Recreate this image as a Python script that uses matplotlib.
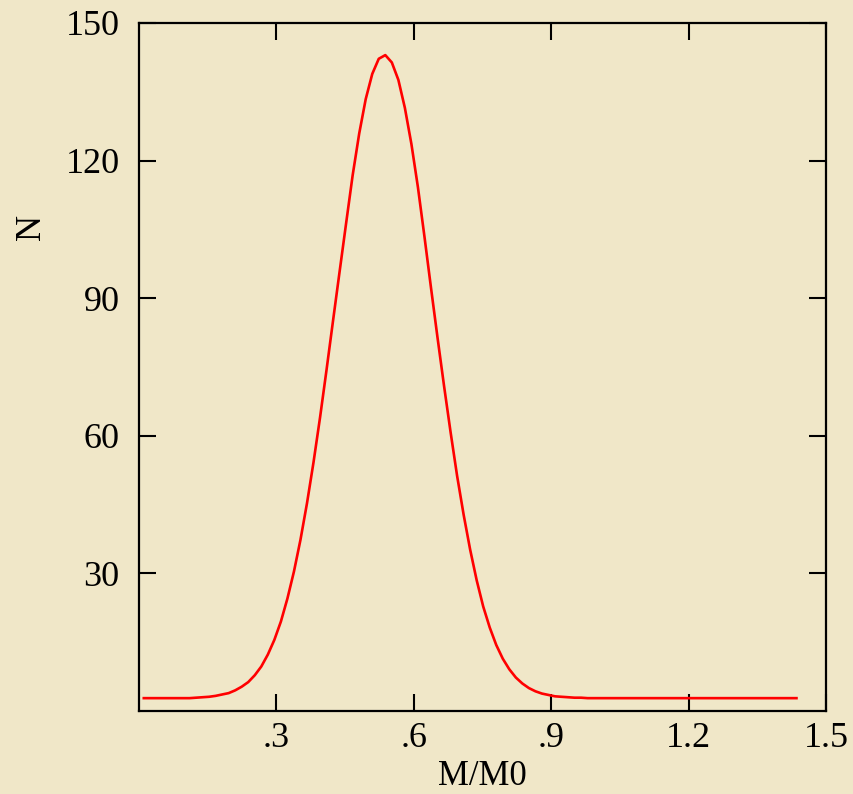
import numpy as np
import matplotlib
matplotlib.use("Agg")
import matplotlib.pyplot as plt

# Mass distribution: counts N versus normalised mass M/M0
m_ratio = [
    0.0105, 0.0248, 0.0390, 0.0533, 0.0675, 0.0818, 0.0960, 0.1103, 0.1245, 0.1388,
    0.1530, 0.1673, 0.1815, 0.1958, 0.2100, 0.2243, 0.2385, 0.2528, 0.2670, 0.2813,
    0.2955, 0.3098, 0.3240, 0.3383, 0.3525, 0.3668, 0.3810, 0.3953, 0.4095, 0.4238,
    0.4380, 0.4523, 0.4665, 0.4808, 0.4950, 0.5093, 0.5235, 0.5378, 0.5520, 0.5663,
    0.5805, 0.5948, 0.6090, 0.6233, 0.6375, 0.6518, 0.6660, 0.6803, 0.6945, 0.7088,
    0.7230, 0.7373, 0.7515, 0.7658, 0.7800, 0.7943, 0.8085, 0.8228, 0.8370, 0.8513,
    0.8655, 0.8798, 0.8940, 0.9083, 0.9225, 0.9368, 0.9510, 0.9653, 0.9795, 0.9938,
    1.0080, 1.0223, 1.0365, 1.0508, 1.0650, 1.0793, 1.0935, 1.1078, 1.1220, 1.1363,
    1.1505, 1.1648, 1.1790, 1.1933, 1.2075, 1.2218, 1.2360, 1.2503, 1.2645, 1.2788,
    1.2930, 1.3073, 1.3215, 1.3358, 1.3500, 1.3643, 1.3785, 1.3928, 1.4070, 1.4213,
    1.4355,
]
counts = [
    2.8, 2.8, 2.8, 2.8, 2.8, 2.8, 2.8, 2.8, 2.9, 3.0,
    3.1, 3.3, 3.6, 3.9, 4.5, 5.3, 6.3, 7.8, 9.7, 12.3,
    15.5, 19.5, 24.5, 30.4, 37.3, 45.3, 54.2, 64.0, 74.4, 85.2,
    95.8, 106.4, 116.8, 125.9, 133.4, 138.9, 142.2, 143.0, 141.4, 137.6,
    131.5, 123.6, 114.2, 103.4, 92.3, 81.4, 70.9, 60.8, 51.3, 42.8,
    35.2, 28.5, 22.8, 18.2, 14.4, 11.4, 9.1, 7.3, 6.0, 5.0,
    4.3, 3.8, 3.5, 3.2, 3.1, 3.0, 2.9, 2.9, 2.8, 2.8,
    2.8, 2.8, 2.8, 2.8, 2.8, 2.8, 2.8, 2.8, 2.8, 2.8,
    2.8, 2.8, 2.8, 2.8, 2.8, 2.8, 2.8, 2.8, 2.8, 2.8,
    2.8, 2.8, 2.8, 2.8, 2.8, 2.8, 2.8, 2.8, 2.8, 2.8,
    2.8,
]

x_ticks = [0.3, 0.6, 0.9, 1.2, 1.5]
x_tick_labels = [".3", ".6", ".9", "1.2", "1.5"]
y_ticks = [30, 60, 90, 120, 150]
y_tick_labels = ["30", "60", "90", "120", "150"]

bg = "#F0E7C8"
plt.rcParams["font.family"] = ["Liberation Serif", "DejaVu Serif"]

fig = plt.figure(figsize=(8.54, 7.94), dpi=100, facecolor=bg)
ax = fig.add_axes([139 / 854, 1 - 711 / 794, 687 / 854, 688 / 794])
ax.set_facecolor(bg)

ax.plot(m_ratio, counts, color="#ff0000", linewidth=1.9)

ax.set_xlim(0, 1.5)
ax.set_ylim(0, 150)
ax.set_xticks(x_ticks)
ax.set_xticklabels(x_tick_labels)
ax.set_yticks(y_ticks)
ax.set_yticklabels(y_tick_labels)

for side in ("left", "right", "top", "bottom"):
    ax.spines[side].set_linewidth(1.6)
    ax.spines[side].set_color("black")

ax.tick_params(axis="both", which="major", direction="in", length=12, width=1.5,
               top=True, right=True, labelsize=26, colors="black")
ax.tick_params(axis="x", pad=8)
ax.tick_params(axis="y", pad=14)

ax.set_xlabel("M/M0", fontsize=25)
ax.xaxis.set_label_coords(0.5, -0.071)
ax.set_ylabel("N", fontsize=26, va="center", ha="center")
ax.yaxis.set_label_coords(-0.156, 0.703)

fig.savefig("out.png", dpi=100, facecolor=bg)
